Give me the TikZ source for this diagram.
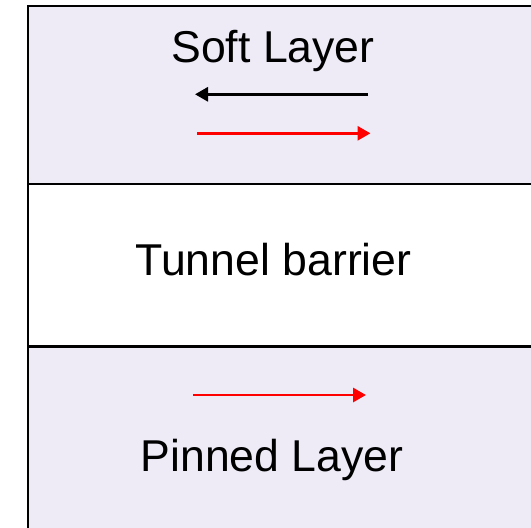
\documentclass[tikz,border=0pt]{standalone}
\usepackage{fontspec}
\setmainfont{Liberation Sans}
\usetikzlibrary{arrows.meta}
\definecolor{layerfill}{RGB}{238,235,247}
\begin{document}
\begin{tikzpicture}[x=1pt,y=-1pt,
  layerbox/.style={draw=black, line width=2.4pt, anchor=north west,
    inner sep=0pt, outer sep=0pt, minimum width=520pt},
  magnetic/.style={fill=layerfill},
  layertext/.style={font=\fontsize{44.6}{50}\selectfont, anchor=base, inner sep=0pt},
  moment/.style={line width=2.9pt, -{Triangle[length=13pt,width=14pt]}},
]
\useasboundingbox (0,0) rectangle (531,528);
\clip (0,0) rectangle (531,528);

% stack of layers: free (soft) layer, tunnel barrier, pinned layer
\node[layerbox, magnetic, minimum height=178.3pt] (soft) at (28,5.7) {};
\node[layerbox, magnetic, minimum height=200pt] (pinned) at (28,346.5) {};
\node[layerbox, fill=white, minimum height=162.5pt] (barrier) at (28,184) {};

% layer names
\node[layertext] (softname) at (273,62) {Soft Layer};
\node[layertext] (barriername) at (273.5,275.5) {Tunnel barrier};
\node[layertext] (pinnedname) at (272,471) {Pinned Layer};

% magnetisation directions
\coordinate (softAp1) at (368,94.3);
\coordinate (softAp2) at (195,94.3);
\coordinate (softP1) at (197,133.3);
\coordinate (softP2) at (370.5,133.3);
\coordinate (pin1) at (193,395);
\coordinate (pin2) at (366,395);

\draw[moment, black] (softAp1) -- (softAp2);
\draw[moment, red] (softP1) -- (softP2);
\draw[moment, red] (pin1) -- (pin2);
\end{tikzpicture}
\end{document}
